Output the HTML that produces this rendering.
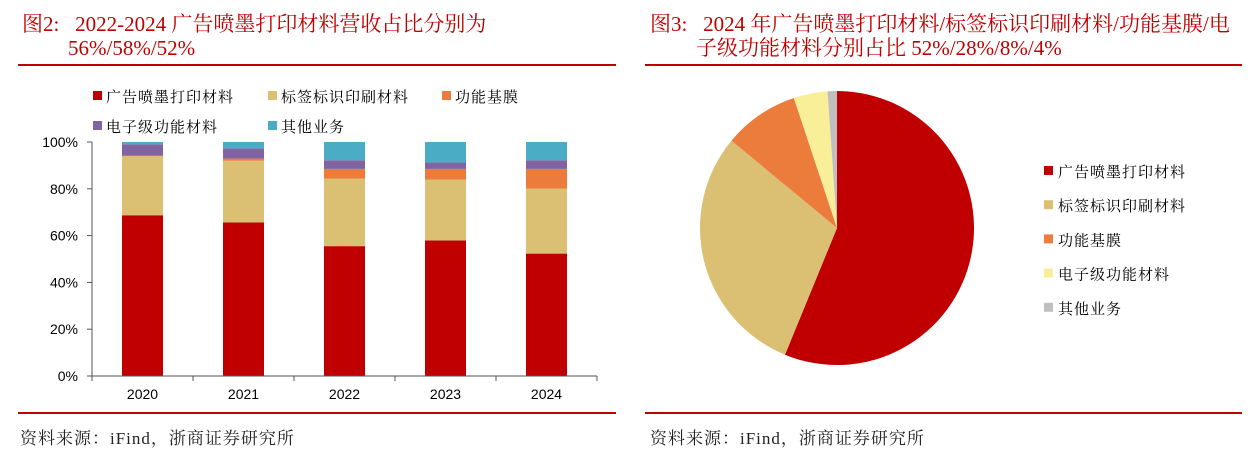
<!DOCTYPE html>
<html><head><meta charset="utf-8"><style>
body{margin:0;width:1256px;height:456px;background:#fff;overflow:hidden;position:relative;font-family:"Liberation Serif","Noto Serif CJK SC",serif}
.t{position:absolute;color:#c00000;font-size:21px;line-height:24px;white-space:nowrap}
.rule{position:absolute;height:2px;background:#c00000}
.src{position:absolute;font-size:17px;letter-spacing:1px;color:#222;white-space:nowrap}
svg text{font-family:"Liberation Sans","Noto Sans CJK SC",sans-serif}
svg text.lg{font-family:"Liberation Serif","Noto Serif CJK SC",serif}
</style></head><body>
<div class="t" style="left:22px;top:12px">图2:&nbsp;&nbsp; 2022-2024 广告喷墨打印材料营收占比分别为<br><span style="padding-left:46px">56%/58%/52%</span></div>
<div class="rule" style="left:18px;top:64px;width:598px"></div>
<div class="t" style="left:650px;top:12px">图3:&nbsp;&nbsp; 2024 年广告喷墨打印材料/标签标识印刷材料/功能基膜/电<br><span style="padding-left:46px">子级功能材料分别占比 52%/28%/8%/4%</span></div>
<div class="rule" style="left:645px;top:64px;width:597px"></div>
<div class="rule" style="left:18px;top:412px;width:598px"></div>
<div class="rule" style="left:645px;top:412px;width:597px"></div>
<div class="src" style="left:20px;top:424px">资料来源：iFind，浙商证券研究所</div>
<div class="src" style="left:650px;top:424px">资料来源：iFind，浙商证券研究所</div>
<svg id="chart" width="1256" height="456" style="position:absolute;left:0;top:0"></svg>
<script>
const categories=["2020","2021","2022","2023","2024"];
const seriesNames=["广告喷墨打印材料","标签标识印刷材料","功能基膜","电子级功能材料","其他业务"];
const sInk=[68.7,65.6,55.5,57.9,52.3];
const sLabel=[25.3,26.4,28.9,26.0,27.8];
const sFilm=[0.2,0.9,4.1,4.6,8.4];
const sElec=[4.8,4.4,3.7,2.8,3.7];
const sOther=[1.0,2.7,7.8,8.7,7.8];
const yTicks=[0,20,40,60,80,100];
const pieNames=["广告喷墨打印材料","标签标识印刷材料","功能基膜","电子级功能材料","其他业务"];
const pieValues=[56.2,29.8,8.9,4.0,1.1];
const barColors=["#c00000","#dbc074","#ec7c3c","#8064a2","#4bacc6"];
const pieColors=["#c00000","#dbc074","#ec7c3c","#f9ef98","#bfbfbf"];
const NS="http://www.w3.org/2000/svg";
const svg=document.getElementById('chart');
function mk(tag,attrs,parent){const e=document.createElementNS(NS,tag);for(const k in attrs)e.setAttribute(k,attrs[k]);(parent||svg).appendChild(e);return e;}
const X0=92,X1=597,Y0=376,Y1=142;
const cw=(X1-X0)/categories.length;
const xC=i=>X0+cw*(i+0.5);
const yS=v=>Y0-(Y0-Y1)*v/100;
yTicks.forEach(t=>{
  const tx=mk('text',{x:X0-14,y:yS(t)+5,'text-anchor':'end','font-size':14,fill:'#000'});
  tx.textContent=t+'%';
  
  
  const tk=mk('line',{x1:X0-5,x2:X0,y1:yS(t),y2:yS(t),stroke:'#555'});
  
  
});
const series=[sInk,sLabel,sFilm,sElec,sOther];
categories.forEach((c,i)=>{
  let acc=0;
  series.forEach((s,k)=>{
    const v=s[i];
    const r=mk('rect',{x:xC(i)-20.5,y:yS(acc+v),width:41,height:yS(acc)-yS(acc+v),fill:barColors[k]});
    
    
    acc+=v;
  });
  const t=mk('text',{x:xC(i),y:399,'text-anchor':'middle','font-size':14,fill:'#000'});
  t.textContent=c;
  
  
});
for(let i=0;i<=categories.length;i++){
  const tk=mk('line',{x1:X0+cw*i,x2:X0+cw*i,y1:Y0,y2:Y0+5,stroke:'#555'});
  
  
}
const ya=mk('line',{x1:X0,x2:X0,y1:Y1,y2:Y0,stroke:'#555'});


const xa=mk('line',{x1:X0,x2:X1,y1:Y0,y2:Y0,stroke:'#555'});


const lp=[[93,96],[268,96],[442,96],[93,126],[268,126]];
seriesNames.forEach((n,k)=>{
  const g=mk('g',{});
  
  
  mk('rect',{x:lp[k][0],y:lp[k][1]-5,width:9,height:9,fill:barColors[k]},g);
  const t=mk('text',{x:lp[k][0]+13,y:lp[k][1]+6,'font-size':15,'letter-spacing':1,fill:'#000',class:'lg'},g);
  t.textContent=n;
});
const cx=837,cy=228,R=137;let a=0;
const tot=pieValues.reduce((p,q)=>p+q,0);
pieValues.forEach((v,k)=>{
  const a0=a/tot*2*Math.PI,a1=(a+v)/tot*2*Math.PI;a+=v;
  const p0=[cx+R*Math.sin(a0),cy-R*Math.cos(a0)],p1=[cx+R*Math.sin(a1),cy-R*Math.cos(a1)];
  const large=(a1-a0)>Math.PI?1:0;
  const p=mk('path',{d:`M${cx},${cy}L${p0[0]},${p0[1]}A${R},${R} 0 ${large} 1 ${p1[0]},${p1[1]}Z`,fill:pieColors[k]});
  
  
});
pieNames.forEach((n,k)=>{
  const y=171+k*34.2;
  const g=mk('g',{});
  
  
  mk('rect',{x:1044,y:y-5,width:9,height:9,fill:pieColors[k]},g);
  const t=mk('text',{x:1058,y:y+6,'font-size':15,'letter-spacing':1,fill:'#000',class:'lg'},g);
  t.textContent=n;
});
</script>
</body></html>
